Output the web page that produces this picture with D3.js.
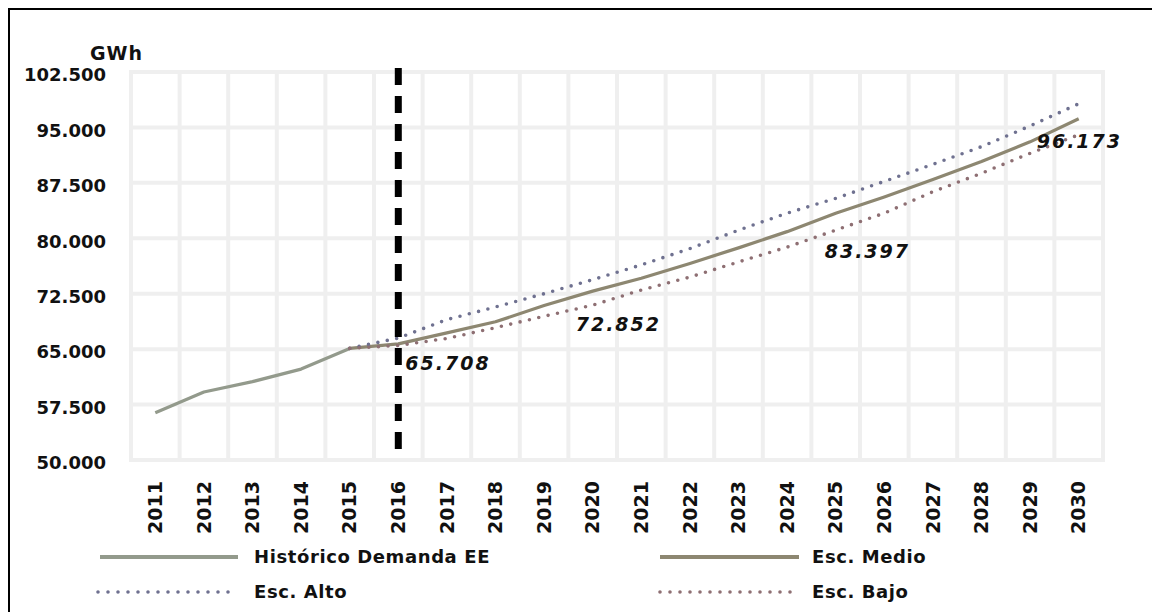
<!DOCTYPE html>
<html>
<head>
<meta charset="utf-8">
<script src="https://cdn.jsdelivr.net/npm/d3@7/dist/d3.min.js"></script>
<style>
  html, body { margin: 0; padding: 0; background: #fff; }
  svg { display: block; }
  text { font-family: "DejaVu Sans", Verdana, sans-serif; fill: #111; }
</style>
</head>
<body>
<svg id="chart" width="1152" height="612"></svg>
<script>
// Demanda de energía eléctrica (GWh): histórico y escenarios de proyección
const years = [2011, 2012, 2013, 2014, 2015, 2016, 2017, 2018, 2019, 2020,
               2021, 2022, 2023, 2024, 2025, 2026, 2027, 2028, 2029, 2030];

const historico = [56400, 59200, 60600, 62300, 65100, null, null, null, null, null,
                   null, null, null, null, null, null, null, null, null, null];
const escMedio  = [null, null, null, null, 65100, 65708, 67200, 68700, 70900, 72852,
                   74600, 76600, 78700, 80900, 83397, 85600, 87950, 90400, 93050, 96173];
const escAlto   = [null, null, null, null, 65100, 66500, 69000, 70700, 72500, 74400,
                   76400, 78600, 81100, 83400, 85400, 87700, 90000, 92400, 95200, 98200];
const escBajo   = [null, null, null, null, 65100, 65500, 66450, 67900, 69450, 70950,
                   73000, 74750, 76800, 78800, 81100, 83400, 86300, 88800, 91500, 94000];

const yTicks = [50000, 57500, 65000, 72500, 80000, 87500, 95000, 102500];

const labelYears  = [2016, 2020, 2025, 2030];
const labelValues = [65708, 72852, 83397, 96173];

const markerYear = 2016;

const seriesNames = ["Histórico Demanda EE", "Esc. Medio", "Esc. Alto", "Esc. Bajo"];

// ---------------------------------------------------------------------------
const svg = d3.select("#chart");
const W = 1152, H = 612;
const plot = { left: 131, right: 1103, top: 72, bottom: 460 };

const es = d3.formatLocale({ decimal: ",", thousands: ".", grouping: [3], currency: ["", ""] });
const fmt = es.format(",d");
const fmt3 = es.format(",.0f");

const x = d3.scaleBand().domain(years).range([plot.left, plot.right]).padding(0);
const xc = yr => x(yr) + x.bandwidth() / 2;
const y = d3.scaleLinear().domain([50000, 102500]).range([plot.bottom, plot.top]);

// outer frame
svg.append("rect").attr("x", 9).attr("y", 9).attr("width", W).attr("height", H)
  .attr("fill", "none").attr("stroke", "#000").attr("stroke-width", 2);

// grid
const grid = svg.append("g").attr("stroke", "#efefef").attr("stroke-width", 4);
grid.selectAll("line.h").data(yTicks).join("line")
  .attr("x1", plot.left - 2).attr("x2", plot.right + 2)
  .attr("y1", d => y(d)).attr("y2", d => y(d));
const xBounds = years.map(d => x(d)).concat([plot.right]);
grid.selectAll("line.v").data(xBounds).join("line")
  .attr("x1", d => d).attr("x2", d => d)
  .attr("y1", plot.top).attr("y2", plot.bottom);

// y axis (labels only)
const yAxis = d3.axisLeft(y).tickValues(yTicks).tickFormat(fmt).tickSize(0).tickPadding(0);
const gy = svg.append("g").attr("transform", `translate(${106},3)`).call(yAxis);
gy.select(".domain").remove();
gy.selectAll("text")
  .style("font-family", "'DejaVu Sans', sans-serif")
  .style("font-size", "18px").style("font-weight", "bold").attr("fill", "#111");

svg.append("text").attr("x", 90).attr("y", 60).text("GWh")
  .style("font-size", "19px").style("font-weight", "bold").style("letter-spacing", "1px");

// x axis (rotated year labels)
const xAxis = d3.axisBottom(x).tickSize(0).tickPadding(0);
const gx = svg.append("g").attr("transform", `translate(0,${481})`).call(xAxis);
gx.select(".domain").remove();
gx.selectAll("text")
  .style("font-family", "'DejaVu Sans', sans-serif")
  .style("font-size", "19px").style("font-weight", "bold").attr("fill", "#111")
  .attr("transform", "rotate(-90)")
  .attr("text-anchor", "end")
  .attr("x", 0).attr("y", 0).attr("dy", "0.35em");

// series
const line = d3.line()
  .defined(d => d[1] != null)
  .x(d => xc(d[0])).y(d => y(d[1]));

const series = [
  { name: seriesNames[0], values: historico, color: "#939a8c", dash: null, width: 3.2 },
  { name: seriesNames[1], values: escMedio,  color: "#8d8771", dash: null, width: 3.2 },
  { name: seriesNames[2], values: escAlto,   color: "#6f7190", dash: "0 9.6", width: 3.6 },
  { name: seriesNames[3], values: escBajo,   color: "#8e6f73", dash: "0 9.6", width: 3.6 }
];
series.forEach(s => {
  svg.append("path")
    .datum(years.map((yr, j) => [yr, s.values[j]]))
    .attr("d", line)
    .attr("fill", "none")
    .attr("stroke", s.color)
    .attr("stroke-width", s.width)
    .attr("stroke-linecap", s.dash ? "round" : "butt")
    .attr("stroke-linejoin", "round")
    .attr("stroke-dasharray", s.dash);
});

// vertical marker at start of projection
svg.append("line")
  .attr("x1", xc(markerYear)).attr("x2", xc(markerYear))
  .attr("y1", 68).attr("y2", 458)
  .attr("stroke", "#000").attr("stroke-width", 7)
  .attr("stroke-dasharray", "17 11");

// data labels
const labelOffsets = [[7, 26], [-17, 40], [-11, 45], [-42, 29]];
svg.append("g").selectAll("text").data(labelYears).join("text")
  .attr("x", (d, i) => xc(d) + labelOffsets[i][0])
  .attr("y", (d, i) => y(labelValues[i]) + labelOffsets[i][1])
  .text((d, i) => fmt3(labelValues[i]))
  .style("font-size", "19px").style("font-weight", "bold")
  .style("font-style", "italic").style("letter-spacing", "2px");

// legend
const legend = svg.append("g");
const legendItems = [
  { s: series[0], x1: 100, x2: 238, tx: 254, ty: 557 },
  { s: series[1], x1: 660, x2: 799, tx: 812, ty: 557 },
  { s: series[2], x1: 98,  x2: 235, tx: 254, ty: 592 },
  { s: series[3], x1: 660, x2: 795, tx: 812, ty: 592 }
];
legendItems.forEach(it => {
  legend.append("line")
    .attr("x1", it.x1).attr("x2", it.x2).attr("y1", it.ty).attr("y2", it.ty)
    .attr("stroke", it.s.color).attr("stroke-width", it.s.dash ? 3.6 : 4)
    .attr("stroke-linecap", it.s.dash ? "round" : "butt")
    .attr("stroke-dasharray", it.s.dash ? "0 10" : null);
  legend.append("text")
    .attr("x", it.tx).attr("y", it.ty).attr("dy", "0.35em")
    .text(it.s.name)
    .style("font-size", "18px").style("font-weight", "bold").style("letter-spacing", "0.6px");
});
</script>
</body>
</html>
